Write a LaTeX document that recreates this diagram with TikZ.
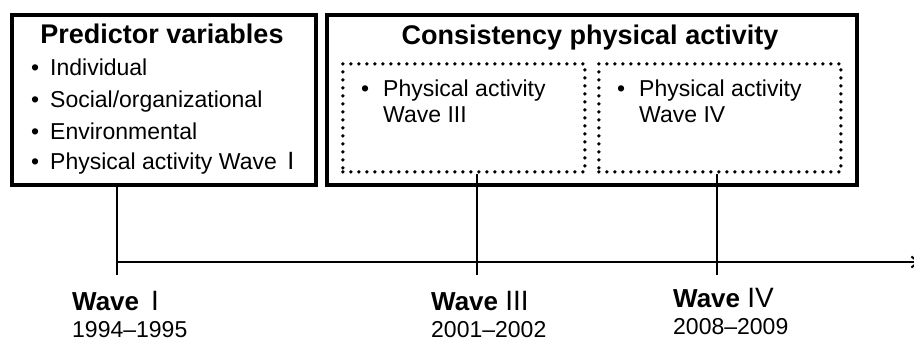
\documentclass[tikz,border=0pt]{standalone}
\usepackage{fontspec}
\setmainfont{Liberation Sans}
\usetikzlibrary{arrows.meta}
\begin{document}
\begin{tikzpicture}[x=1pt,y=-1pt,
  bigbox/.style={draw, line width=3.6pt, minimum width=#1, minimum height=170pt, anchor=north west, inner sep=0pt},
  dotbox/.style={draw, line width=3.8pt, dash pattern=on 0pt off 8pt, line cap=round, minimum width=242pt, minimum height=108pt, anchor=north west, inner sep=0pt},
  titletext/.style={font=\fontsize{27}{30}\selectfont\bfseries, anchor=base, inner sep=0pt},
  itemtext/.style={font=\fontsize{23}{27}\selectfont, anchor=base west, inner sep=0pt},
  wavetext/.style={font=\fontsize{26}{30}\selectfont\bfseries, anchor=base west, inner sep=0pt},
  yeartext/.style={font=\fontsize{23}{27}\selectfont, anchor=base west, inner sep=0pt},
  tline/.style={line width=2.2pt}]
\useasboundingbox (0,0) rectangle (914,342);
% boxes
\node[bigbox=304pt] (pred) at (10,13) {};
\node[bigbox=530pt] (cons) at (325,13) {};
\node[dotbox] (w3box) at (341,62) {};
\node[dotbox] (w4box) at (597,62) {};
% titles
\node[titletext] (predtitle) at (162,44) {Predictor variables};
\node[titletext] (constitle) at (590,45) {Consistency physical activity};
% left items
\node[itemtext] (i1) at (31,76) {\makebox[19pt][l]{•}Individual};
\node[itemtext] (i2) at (31,108) {\makebox[19pt][l]{•}Social/organizational};
\node[itemtext] (i3) at (31,140) {\makebox[19pt][l]{•}Environmental};
\node[itemtext] (i4) at (31,170) {\makebox[19pt][l]{•}Physical activity Wave {\fontsize{25}{27}\selectfont\,I}};
% dotted box items
\node[itemtext] (d1a) at (361,97) {\makebox[22pt][l]{•}Physical activity};
\node[itemtext] (d1b) at (383,123) {Wave III};
\node[itemtext] (d2a) at (617,97) {\makebox[22pt][l]{•}Physical activity};
\node[itemtext] (d2b) at (639,123) {Wave IV};
% timeline
\coordinate (t1) at (117,275);
\coordinate (t3) at (477,275);
\coordinate (t4) at (717,275);
\coordinate (axstart) at (117,262);
\coordinate (axend) at (920,262);
\draw[tline] (t1 |- pred.south) -- (t1);
\draw[tline] (t3 |- w3box.south) -- (t3);
\draw[tline] (t4 |- w4box.south) -- (t4);
\draw[tline, -{Straight Barb[length=7pt, width=11pt, line width=2pt]}] (axstart) -- (axend);
% wave labels
\node[wavetext] (wv1) at (72,310) {Wave {\mdseries\fontsize{28}{30}\selectfont\,I}};
\node[yeartext] (yr1) at (72,337) {1994–1995};
\node[wavetext] (wv3) at (431,310) {Wave {\mdseries\fontsize{28}{30}\selectfont III}};
\node[yeartext] (yr3) at (431,337) {2001–2002};
\node[wavetext] (wv4) at (673,307) {Wave {\mdseries\fontsize{28}{30}\selectfont IV}};
\node[yeartext] (yr4) at (673,334) {2008–2009};
\end{tikzpicture}
\end{document}
